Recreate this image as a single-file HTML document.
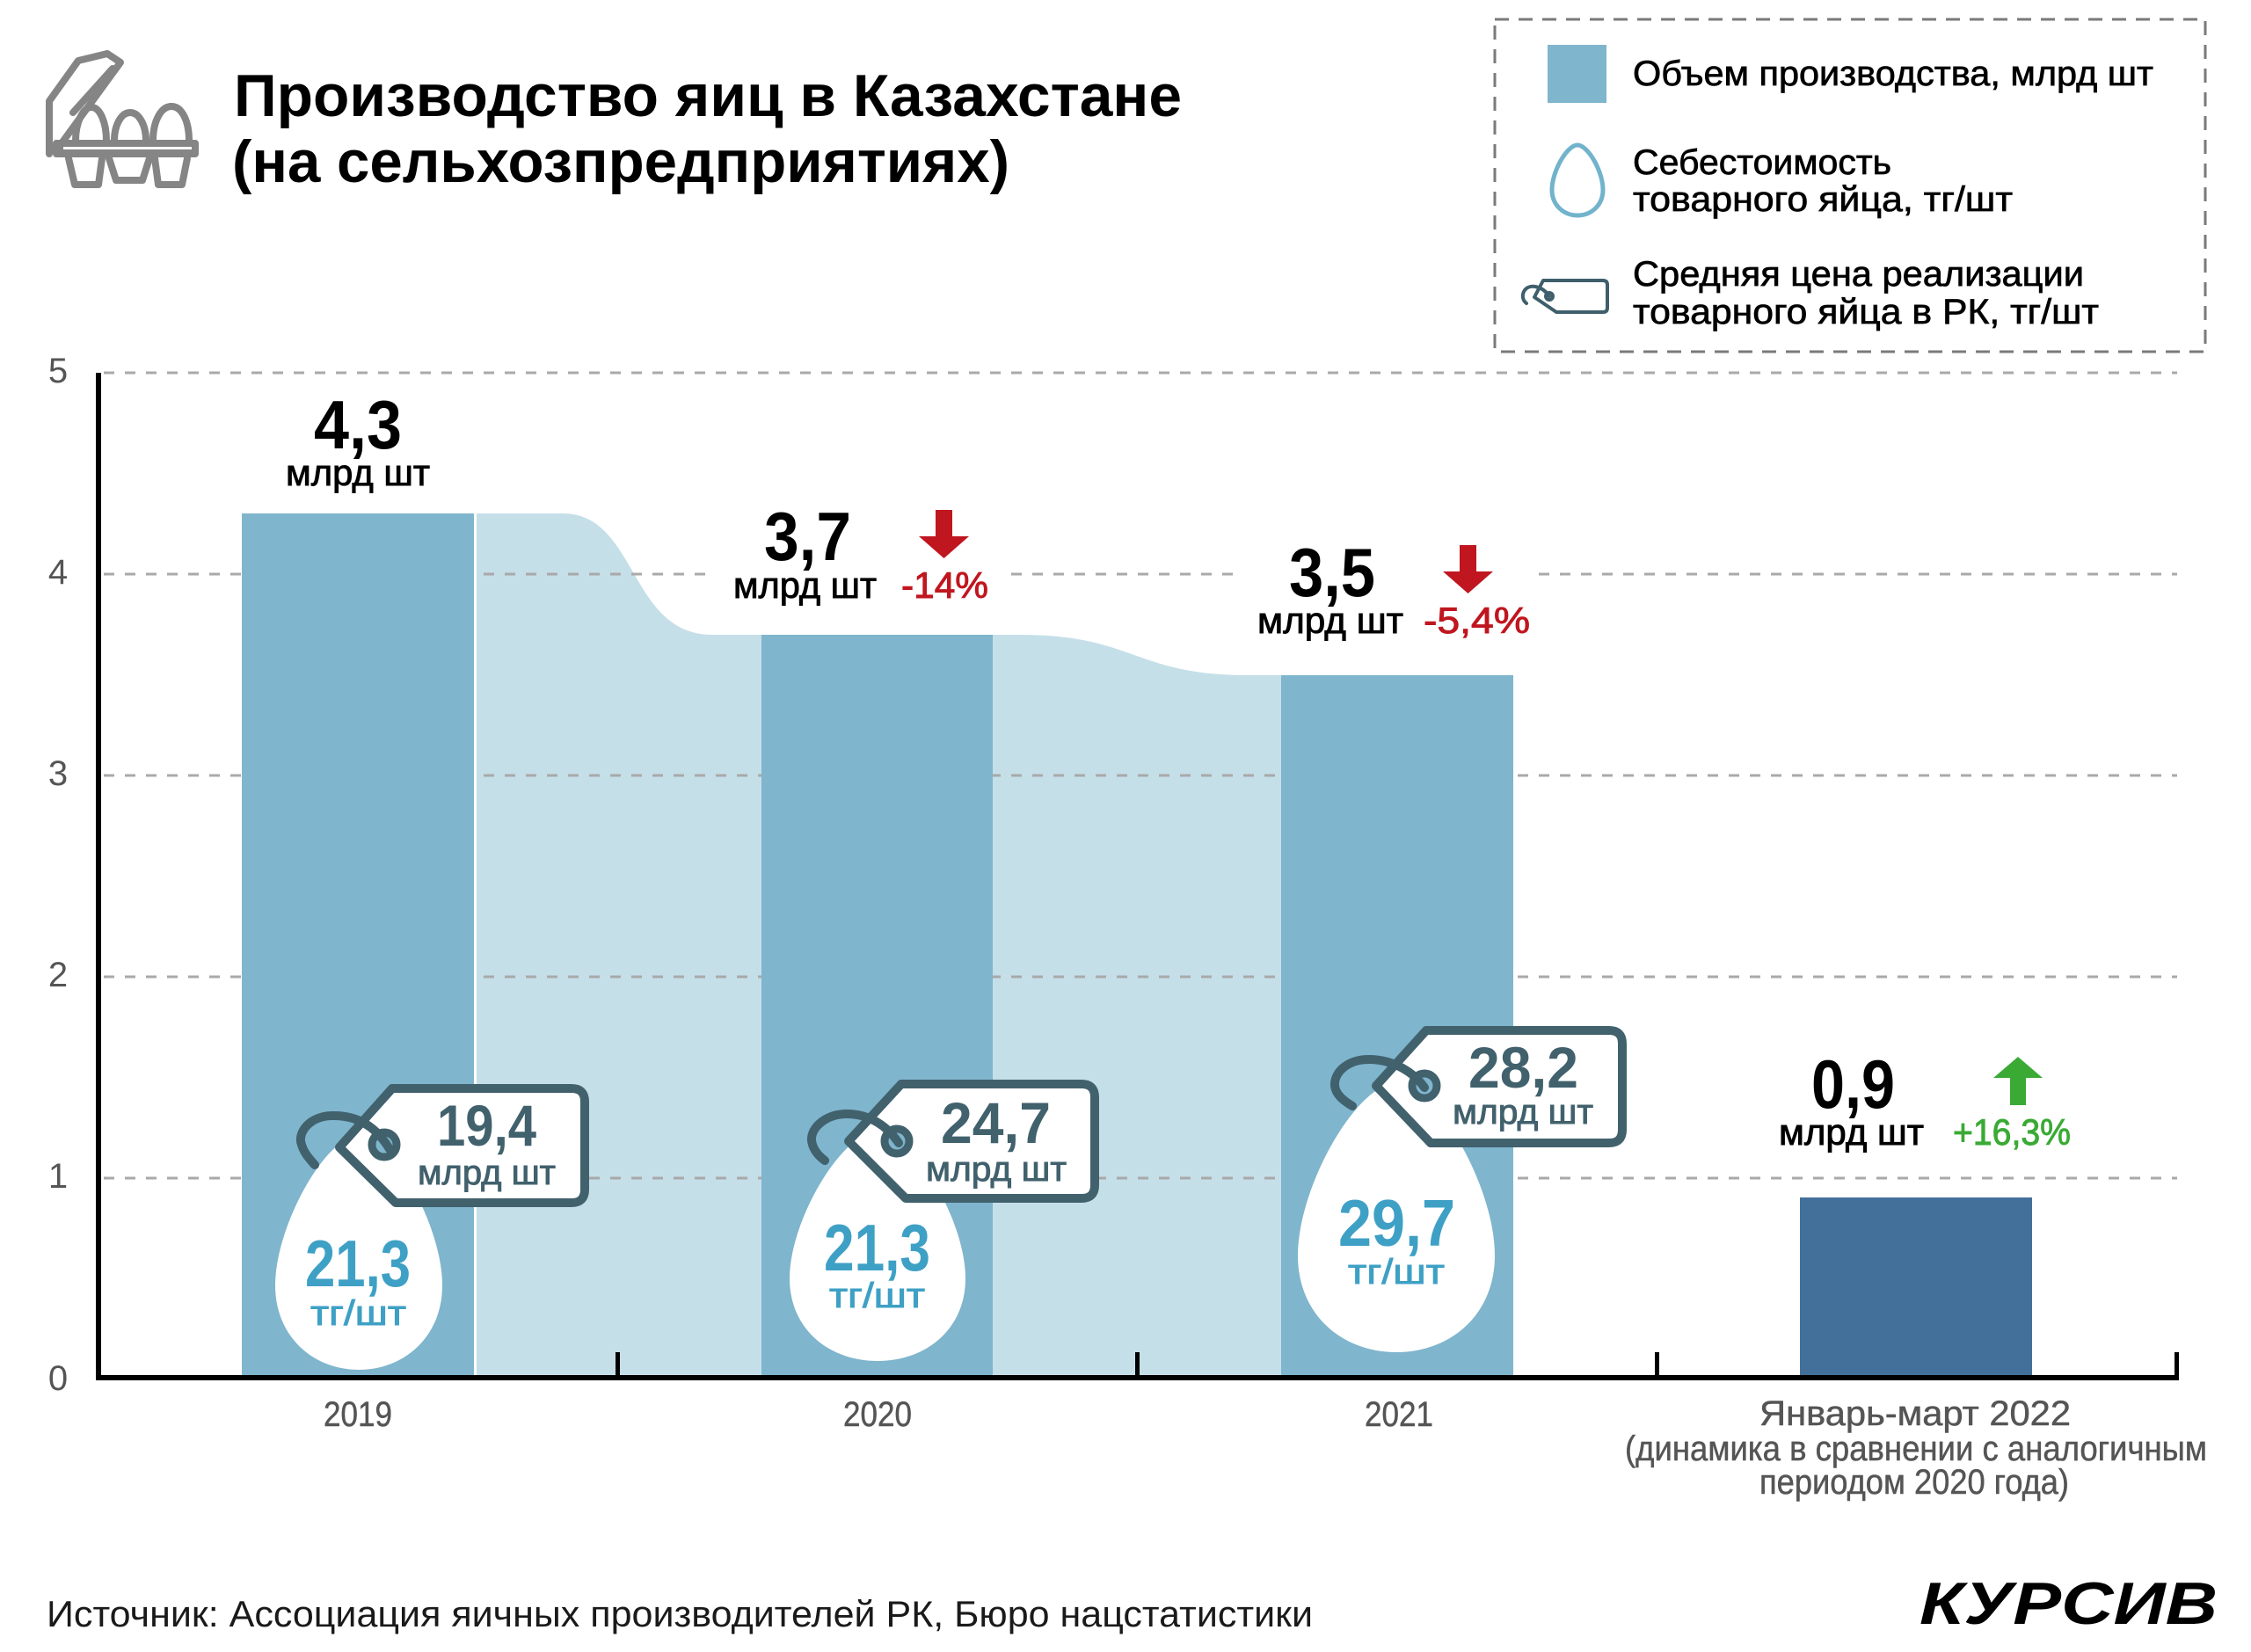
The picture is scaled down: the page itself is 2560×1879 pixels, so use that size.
<!DOCTYPE html>
<html><head><meta charset="utf-8"><style>
html,body{margin:0;padding:0;background:#fff;width:2560px;height:1879px;overflow:hidden}
svg{display:block}
text{font-family:"Liberation Sans","DejaVu Sans",sans-serif}
</style></head><body>
<svg width="2560" height="1879" viewBox="0 0 2560 1879" xmlns="http://www.w3.org/2000/svg">
<rect width="2560" height="1879" fill="#fff"/>

<!-- title icon -->
<g fill="none" stroke="#858585" stroke-width="8" stroke-linejoin="round" stroke-linecap="round">
  <path d="M56,175 L56,115 L89,69 L122,61 L137,71 L70,163"/>
  <path d="M128,78 L83,128"/>
  <path d="M86,160 C86,140 94,122 104,122 C114,122 121,140 121,160"/>
  <path d="M130,160 C130,142 138,128 148,128 C158,128 166,142 166,160"/>
  <path d="M174,160 C174,138 183,121 195,121 C207,121 215,138 215,160"/>
  <path d="M78,180 L85,210 L112,210 L116,180"/>
  <path d="M124,180 L132,205 L162,205 L170,180"/>
  <path d="M176,180 L180,210 L207,210 L213,180"/>
</g>
<rect x="60" y="159" width="166" height="20" rx="4" fill="#858585"/>
<rect x="72" y="167" width="146" height="3" fill="#fff"/>

<!-- title -->
<text x="266" y="132" font-size="68" font-weight="bold" fill="#000" textLength="1078" lengthAdjust="spacingAndGlyphs">Производство яиц в Казахстане</text>
<text x="264" y="207" font-size="68" font-weight="bold" fill="#000" textLength="884" lengthAdjust="spacingAndGlyphs">(на сельхозпредприятиях)</text>

<!-- legend -->
<rect x="1700" y="22" width="808" height="378" fill="none" stroke="#7a7a7a" stroke-width="3" stroke-dasharray="16 11"/>
<rect x="1760" y="51" width="67" height="66" fill="#7fb5cd"/>
<path d="M1794,165 C1806,165 1823,195 1823,216 C1823,233 1810,245 1794,245 C1778,245 1765,233 1765,216 C1765,195 1782,165 1794,165 Z" fill="none" stroke="#72b3cc" stroke-width="5"/>
<g fill="none" stroke="#3e5f6b" stroke-width="4" stroke-linejoin="round" stroke-linecap="round">
  <path d="M1755,319 L1823,319 Q1828,319 1828,324 L1828,350 Q1828,355 1823,355 L1770,355 L1745,338 Z"/>
  <circle cx="1762" cy="337" r="4"/>
  <path d="M1762,337 C1755,326 1740,322 1734,330 C1730,336 1732,342 1736,345"/>
</g>
<g font-size="40" fill="#000" stroke="#000" stroke-width="0.7">
<text x="1857" y="97" textLength="592" lengthAdjust="spacingAndGlyphs">Объем производства, млрд шт</text>
<text x="1857" y="198" textLength="294" lengthAdjust="spacingAndGlyphs">Себестоимость</text>
<text x="1857" y="240" textLength="432" lengthAdjust="spacingAndGlyphs">товарного яйца, тг/шт</text>
<text x="1857" y="325" textLength="513" lengthAdjust="spacingAndGlyphs">Средняя цена реализации</text>
<text x="1857" y="368" textLength="530" lengthAdjust="spacingAndGlyphs">товарного яйца в РК, тг/шт</text>
</g>

<!-- light connector areas -->
<path d="M542,1566 L542,584 L640,584 C725,584 715,722 810,722 L866,722 L866,1566 Z" fill="#c5dfe9"/>
<path d="M1129,1566 L1129,722 L1160,722 C1290,722 1290,768 1420,768 L1457,768 L1457,1566 Z" fill="#c5dfe9"/>

<!-- gridlines -->
<g stroke="#a9a9a9" stroke-width="3" stroke-dasharray="12 12">
  <line x1="118" y1="424" x2="2476" y2="424"/>
  <line x1="118" y1="653" x2="2476" y2="653"/>
  <line x1="118" y1="882" x2="2476" y2="882"/>
  <line x1="118" y1="1111" x2="2476" y2="1111"/>
  <line x1="118" y1="1340" x2="2476" y2="1340"/>
</g>

<!-- bars -->
<rect x="275" y="584" width="264" height="982" fill="#7fb5cd"/>
<rect x="866" y="722" width="263" height="844" fill="#7fb5cd"/>
<rect x="1457" y="768" width="264" height="798" fill="#7fb5cd"/>
<rect x="2047" y="1362" width="264" height="204" fill="#43709a"/>

<!-- white label backgrounds -->
<rect x="812" y="575" width="335" height="120" fill="#fff"/>
<rect x="1402" y="612" width="347" height="120" fill="#fff"/>

<!-- axes -->
<rect x="109" y="424" width="6" height="1146" fill="#000"/>
<rect x="109" y="1564" width="2369" height="6" fill="#000"/>
<rect x="700" y="1538" width="5" height="30" fill="#000"/>
<rect x="1291" y="1538" width="5" height="30" fill="#000"/>
<rect x="1882" y="1538" width="5" height="30" fill="#000"/>
<rect x="2473" y="1538" width="5" height="30" fill="#000"/>

<!-- y labels -->
<g font-size="40" fill="#555" text-anchor="middle">
  <text x="66" y="435">5</text>
  <text x="66" y="664">4</text>
  <text x="66" y="893">3</text>
  <text x="66" y="1122">2</text>
  <text x="66" y="1351">1</text>
  <text x="66" y="1581">0</text>
</g>

<!-- value labels -->
<g font-weight="bold" font-size="78" fill="#000">
  <text x="357" y="510" textLength="100" lengthAdjust="spacingAndGlyphs">4,3</text>
  <text x="869" y="637" textLength="99" lengthAdjust="spacingAndGlyphs">3,7</text>
  <text x="1466" y="678" textLength="98" lengthAdjust="spacingAndGlyphs">3,5</text>
  <text x="2060" y="1260" textLength="95" lengthAdjust="spacingAndGlyphs">0,9</text>
</g>
<g font-size="42" fill="#000" stroke="#000" stroke-width="0.9">
  <text x="325" y="552" textLength="164" lengthAdjust="spacingAndGlyphs">млрд шт</text>
  <text x="834" y="680" textLength="163" lengthAdjust="spacingAndGlyphs">млрд шт</text>
  <text x="1430" y="720" textLength="166" lengthAdjust="spacingAndGlyphs">млрд шт</text>
  <text x="2023" y="1302" textLength="165" lengthAdjust="spacingAndGlyphs">млрд шт</text>
</g>
<g font-size="42" stroke-width="0.9">
  <text x="1025" y="680" fill="#c0161f" stroke="#c0161f" textLength="99" lengthAdjust="spacingAndGlyphs">-14%</text>
  <text x="1619" y="720" fill="#c0161f" stroke="#c0161f" textLength="121" lengthAdjust="spacingAndGlyphs">-5,4%</text>
  <text x="2221" y="1302" fill="#3aaa35" stroke="#3aaa35" textLength="134" lengthAdjust="spacingAndGlyphs">+16,3%</text>
</g>

<!-- arrows -->
<rect x="1064" y="580" width="19" height="32" fill="#c0161f"/>
<polygon points="1045,610 1102,610 1073.5,635" fill="#c0161f"/>
<rect x="1660" y="620" width="19" height="32" fill="#c0161f"/>
<polygon points="1641,650 1698,650 1669.5,675" fill="#c0161f"/>
<rect x="2286" y="1224" width="18" height="33" fill="#3aaa35"/>
<polygon points="2267,1226 2323,1226 2295,1202" fill="#3aaa35"/>

<!-- eggs -->
<g fill="#fff">
  <path d="M408,1292 C446,1292 503,1395 503,1462 C503,1520 460,1558 408,1558 C356,1558 313,1520 313,1462 C313,1395 370,1292 408,1292 Z"/>
  <path d="M998,1287 C1038,1287 1098,1388 1098,1454 C1098,1512 1053,1548 998,1548 C943,1548 898,1512 898,1454 C898,1388 958,1287 998,1287 Z"/>
  <path d="M1588,1232 C1633,1232 1700,1350 1700,1428 C1700,1495 1650,1538 1588,1538 C1526,1538 1476,1495 1476,1428 C1476,1350 1543,1232 1588,1232 Z"/>
</g>

<!-- tags -->
<g fill="#fff" stroke="#41616d" stroke-width="10" stroke-linejoin="round">
  <path d="M446,1238 L650,1238 Q665,1238 665,1253 L665,1353 Q665,1368 650,1368 L450,1368 L386,1305 Z"/>
  <path d="M1025,1233 L1230,1233 Q1245,1233 1245,1248 L1245,1348 Q1245,1363 1230,1363 L1030,1363 L965,1298 Z"/>
  <path d="M1622,1172 L1830,1172 Q1845,1172 1845,1187 L1845,1285 Q1845,1300 1830,1300 L1627,1300 L1565,1235 Z"/>
</g>
<g fill="#7fb5cd" stroke="#41616d" stroke-width="9">
  <circle cx="437" cy="1302" r="14"/>
  <circle cx="1020" cy="1298" r="14"/>
  <circle cx="1620" cy="1235" r="14"/>
</g>
<g fill="none" stroke="#41616d" stroke-width="10" stroke-linecap="round">
  <path d="M443,1307 C430,1285 410,1268 377,1269 C350,1270 338,1290 343,1302 C346,1312 352,1318 358,1325"/>
  <path d="M1022,1300 C1010,1282 990,1267 963,1267 C940,1267 922,1282 923,1297 C924,1307 930,1314 938,1320"/>
  <path d="M1620,1237 C1608,1220 1585,1205 1557,1205 C1532,1205 1517,1220 1518,1235 C1519,1245 1528,1252 1538,1258"/>
</g>

<!-- tag labels -->
<g fill="#41616d">
  <text x="497" y="1303" font-size="66" font-weight="bold" textLength="113" lengthAdjust="spacingAndGlyphs">19,4</text>
  <text x="475" y="1347" font-size="40" stroke="#41616d" stroke-width="0.9" textLength="157" lengthAdjust="spacingAndGlyphs">млрд шт</text>
  <text x="1070" y="1300" font-size="66" font-weight="bold" textLength="125" lengthAdjust="spacingAndGlyphs">24,7</text>
  <text x="1053" y="1343" font-size="40" stroke="#41616d" stroke-width="0.9" textLength="160" lengthAdjust="spacingAndGlyphs">млрд шт</text>
  <text x="1670" y="1237" font-size="66" font-weight="bold" textLength="125" lengthAdjust="spacingAndGlyphs">28,2</text>
  <text x="1652" y="1278" font-size="40" stroke="#41616d" stroke-width="0.9" textLength="160" lengthAdjust="spacingAndGlyphs">млрд шт</text>
</g>

<!-- egg labels -->
<g fill="#3ea0c5">
  <text x="347" y="1463" font-size="75" font-weight="bold" textLength="120" lengthAdjust="spacingAndGlyphs">21,3</text>
  <text x="353" y="1507" font-size="40" stroke="#3ea0c5" stroke-width="0.9" textLength="109" lengthAdjust="spacingAndGlyphs">тг/шт</text>
  <text x="937" y="1445" font-size="75" font-weight="bold" textLength="121" lengthAdjust="spacingAndGlyphs">21,3</text>
  <text x="943" y="1487" font-size="40" stroke="#3ea0c5" stroke-width="0.9" textLength="109" lengthAdjust="spacingAndGlyphs">тг/шт</text>
  <text x="1522" y="1417" font-size="75" font-weight="bold" textLength="133" lengthAdjust="spacingAndGlyphs">29,7</text>
  <text x="1533" y="1460" font-size="40" stroke="#3ea0c5" stroke-width="0.9" textLength="110" lengthAdjust="spacingAndGlyphs">тг/шт</text>
</g>

<!-- x labels -->
<g font-size="40" fill="#555" stroke="#555" stroke-width="0.5">
  <text x="368" y="1622" textLength="78" lengthAdjust="spacingAndGlyphs">2019</text>
  <text x="959" y="1622" textLength="78" lengthAdjust="spacingAndGlyphs">2020</text>
  <text x="1552" y="1622" textLength="78" lengthAdjust="spacingAndGlyphs">2021</text>
  <text x="2001" y="1621" textLength="354" lengthAdjust="spacingAndGlyphs">Январь-март 2022</text>
  <text x="1848" y="1661" textLength="662" lengthAdjust="spacingAndGlyphs">(динамика в сравнении с аналогичным</text>
  <text x="2001" y="1699" textLength="352" lengthAdjust="spacingAndGlyphs">периодом 2020 года)</text>
</g>

<!-- footer -->
<text x="53" y="1850" font-size="42" fill="#1a1a1a" textLength="1440" lengthAdjust="spacingAndGlyphs">Источник: Ассоциация яичных производителей РК, Бюро нацстатистики</text>
<text x="2183" y="1847" font-size="68" font-weight="bold" font-style="italic" fill="#000" textLength="339" lengthAdjust="spacingAndGlyphs">КУРСИВ</text>
</svg>
</body></html>
